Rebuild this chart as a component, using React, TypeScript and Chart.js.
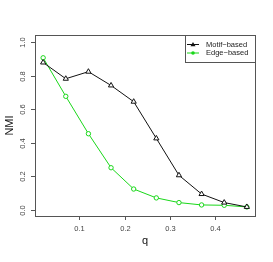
import React, { useEffect, useRef } from "react";
import { Chart, registerables } from "chart.js";

Chart.register(...registerables);

const qValues = [0.02, 0.07, 0.12, 0.17, 0.22, 0.27, 0.32, 0.37, 0.42, 0.47];
const motifBased = [0.88, 0.783, 0.825, 0.743, 0.646, 0.427, 0.207, 0.095, 0.044, 0.018];
const edgeBased = [0.908, 0.678, 0.455, 0.252, 0.125, 0.072, 0.044, 0.03, 0.028, 0.018];
const xTicks = [0.1, 0.2, 0.3, 0.4];
const yTicks = [0.0, 0.2, 0.4, 0.6, 0.8, 1.0];
const seriesNames = ["Motif\u2212based", "Edge\u2212based"];

const BLACK = "#111111";
const GREEN = "rgb(25,215,25)";
const FONT = "Liberation Sans, Arial, sans-serif";

const decorPlugin = {
  id: "rdecor",
  afterDraw(chart: any) {
    const ctx = chart.ctx;
    const a = chart.chartArea;
    const xs = chart.scales.x;
    const ys = chart.scales.y;
    ctx.save();
    // box
    ctx.strokeStyle = "#555";
    ctx.lineWidth = 1;
    ctx.strokeRect(Math.round(a.left) + 0.5, Math.round(a.top) + 0.5, Math.round(a.right - a.left), Math.round(a.bottom - a.top));
    // x ticks
    ctx.fillStyle = "#444";
    ctx.font = `7.5px ${FONT}`;
    ctx.textAlign = "center";
    ctx.textBaseline = "top";
    xTicks.forEach((t) => {
      const px = Math.round(xs.getPixelForValue(t)) + 0.5;
      ctx.beginPath();
      ctx.moveTo(px, a.bottom);
      ctx.lineTo(px, a.bottom + 4);
      ctx.stroke();
      ctx.fillText(String(t), px, a.bottom + 9);
    });
    // y ticks
    yTicks.forEach((t) => {
      const py = Math.round(ys.getPixelForValue(t)) + 0.5;
      ctx.beginPath();
      ctx.moveTo(a.left, py);
      ctx.lineTo(a.left - 4, py);
      ctx.stroke();
      ctx.save();
      ctx.translate(a.left - 12, py);
      ctx.rotate(-Math.PI / 2);
      ctx.textAlign = "center";
      ctx.textBaseline = "middle";
      ctx.fillText(t.toFixed(1), 0, 0);
      ctx.restore();
    });
    // axis titles
    ctx.fillStyle = "#111";
    ctx.font = `11px ${FONT}`;
    ctx.textAlign = "center";
    ctx.textBaseline = "middle";
    ctx.fillText("q", (a.left + a.right) / 2, a.bottom + 25);
    ctx.save();
    ctx.translate(10, (a.top + a.bottom) / 2);
    ctx.rotate(-Math.PI / 2);
    ctx.fillText("NMI", 0, 0);
    ctx.restore();
    // legend
    const lw = 70, lh = 27;
    const lx = Math.round(a.right - lw), ly = Math.round(a.top);
    ctx.strokeStyle = "#555";
    ctx.strokeRect(lx + 0.5, ly + 0.5, lw, lh);
    const colors = [BLACK, GREEN];
    ctx.font = `7.5px ${FONT}`;
    ctx.textAlign = "left";
    seriesNames.forEach((name, i) => {
      const yy = ly + 9.5 + i * 8.5;
      ctx.strokeStyle = colors[i];
      ctx.fillStyle = colors[i];
      ctx.lineWidth = 1;
      ctx.beginPath();
      ctx.moveTo(lx + 2, yy);
      ctx.lineTo(lx + 14, yy);
      ctx.stroke();
      ctx.beginPath();
      if (i === 0) {
        ctx.moveTo(lx + 8, yy - 2.5);
        ctx.lineTo(lx + 10.5, yy + 1.8);
        ctx.lineTo(lx + 5.5, yy + 1.8);
        ctx.closePath();
      } else {
        ctx.arc(lx + 8, yy, 1.8, 0, Math.PI * 2);
      }
      ctx.fill();
      ctx.fillStyle = "#222";
      ctx.textBaseline = "middle";
      ctx.fillText(name, lx + 21, yy);
    });
    ctx.restore();
  },
};

export default function App() {
  const ref = useRef<HTMLCanvasElement>(null);
  useEffect(() => {
    const chart = new Chart(ref.current!, {
      type: "line",
      data: {
        datasets: [
          {
            label: seriesNames[0],
            data: qValues.map((q, i) => ({ x: q, y: motifBased[i] })),
            borderColor: BLACK,
            borderWidth: 1,
            pointStyle: "triangle",
            pointRadius: 3,
            pointBorderColor: BLACK,
            pointBackgroundColor: "#ffffff",
            pointBorderWidth: 1,
          },
          {
            label: seriesNames[1],
            data: qValues.map((q, i) => ({ x: q, y: edgeBased[i] })),
            borderColor: GREEN,
            borderWidth: 1,
            pointStyle: "circle",
            pointRadius: 2.2,
            pointBorderColor: GREEN,
            pointBackgroundColor: "#ffffff",
            pointBorderWidth: 1,
          },
        ],
      },
      options: {
        animation: false,
        responsive: false,
        maintainAspectRatio: false,
        layout: { padding: { left: 35, right: 18, top: 35, bottom: 46 } },
        plugins: { legend: { display: false }, tooltip: { enabled: false } },
        scales: {
          x: { type: "linear", min: 0.002, max: 0.488, display: false },
          y: { type: "linear", min: -0.036, max: 1.044, display: false },
        },
      },
      plugins: [decorPlugin],
    });
    return () => chart.destroy();
  }, []);
  return (
    <div style={{ position: "fixed", left: 0, top: 0, width: 273, height: 262, background: "#fff" }}>
      <canvas ref={ref} width={273} height={262} />
    </div>
  );
}
